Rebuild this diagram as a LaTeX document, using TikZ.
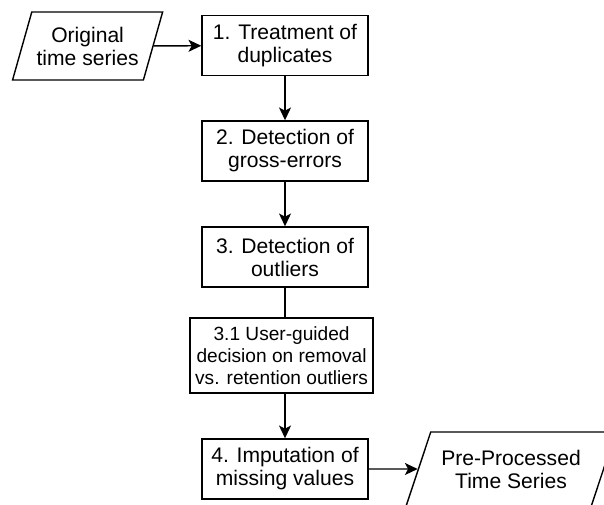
\documentclass[tikz,border=0pt]{standalone}
\usepackage{fontspec}
\setmainfont{Liberation Sans}
\usetikzlibrary{shapes.geometric,arrows.meta}
\begin{document}
\begin{tikzpicture}[
    font=\fontsize{15}{16.4}\selectfont,
    paso/.style={draw, line width=1pt, align=center, inner sep=0pt,
                 minimum width=4.15cm, minimum height=1.5cm},
    datos/.style={draw, line width=1pt, align=center, inner sep=0pt,
                  trapezium, trapezium stretches=true},
    flecha/.style={line width=1pt, -{Stealth[length=3.2mm,width=3mm,inset=0.8mm]}}
]
    \useasboundingbox (0,0) rectangle (15.1,12.6);
    % Serie de entrada y serie de salida (paralelogramos)
    \node[datos, trapezium left angle=65.5, trapezium right angle=114.5,
          minimum width=3.775cm, minimum height=1.7cm]
        (entrada) at (2.19,11.45) {Original\\time series};
    \node[datos, trapezium left angle=61, trapezium right angle=119,
          minimum width=5.25cm, minimum height=1.85cm]
        (salida) at (12.775,0.875) {Pre-Processed\\Time Series};
    % Pasos del preprocesado
    \node[paso] (paso1) at (7.125,11.46) {1. Treatment of\\duplicates};
    \node[paso] (paso2) at (7.125,8.825) {2. Detection of\\gross-errors};
    \node[paso] (paso3) at (7.125,6.175) {3. Detection of\\outliers};
    \node[paso, minimum width=4.575cm, minimum height=1.875cm,
          font=\fontsize{13.6}{15.8}\selectfont]
        (paso31) at (7.04,3.7125) {3.1 User-guided\\decision on removal\\vs. retention outliers};
    \node[paso] (paso4) at (7.125,0.875) {4. Imputation of\\missing values};
    % Flechas
    \draw[flecha] (entrada) -- (paso1);
    \foreach \a/\b in {paso1/paso2, paso2/paso3}
        \draw[flecha] (\a) -- (\b);
    % Paso 3 -> 3.1 sin punta
    \draw[line width=1pt] (paso3.south) -- (paso3.south |- paso31.north);
    \draw[flecha] (paso4.north |- paso31.south) -- (paso4.north);
    \draw[flecha] (paso4) -- (salida);
\end{tikzpicture}
\end{document}
